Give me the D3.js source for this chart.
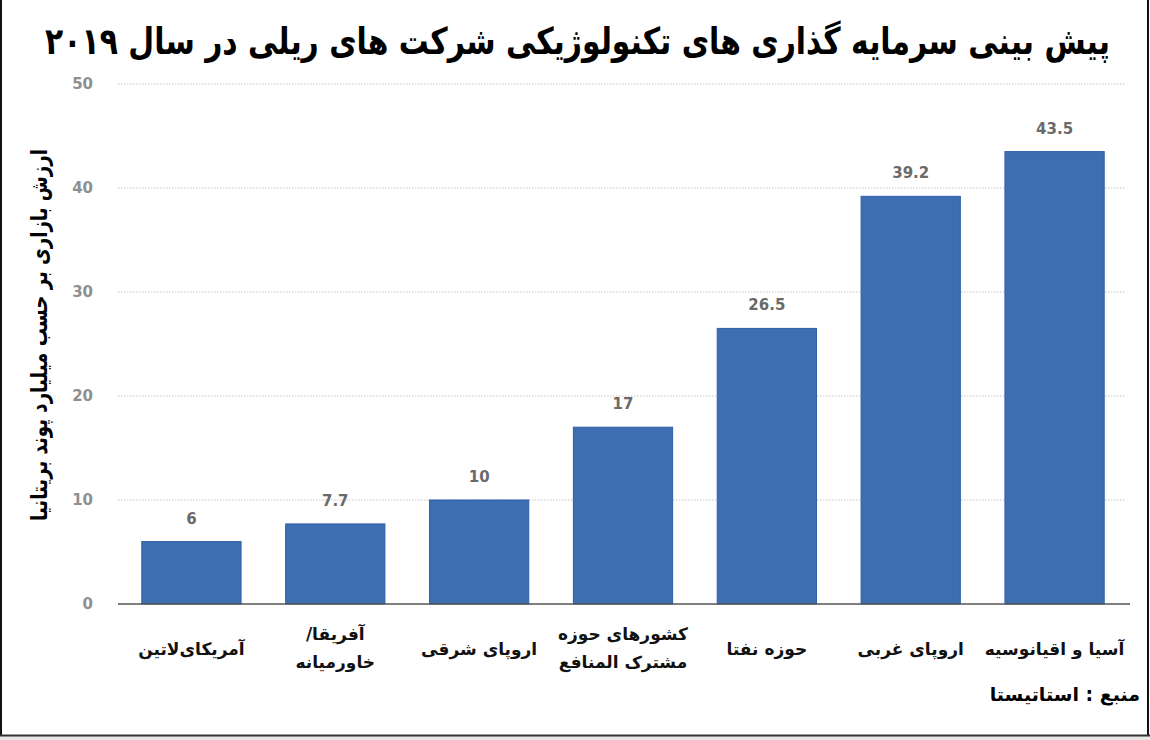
<!DOCTYPE html>
<html lang="fa">
<head>
<meta charset="utf-8">
<script src="https://cdn.jsdelivr.net/npm/d3@7"></script>
<style>
	html, body { margin: 0; padding: 0; background: #fff; }
	svg { display: block; }
	text { font-family: "DejaVu Sans", sans-serif; }
</style>
</head>
<body>
<svg id="chart" width="1150" height="740"></svg>
<script>
// Data (left to right as in the picture)
const regions = [
	["آمریکای‌لاتین"],
	["آفریقا/", "خاورمیانه"],
	["اروپای شرقی"],
	["کشورهای حوزه", "مشترک المنافع"],
	["حوزه نفتا"],
	["اروپای غربی"],
	["آسیا و اقیانوسیه"],
];
const values = [6, 7.7, 10, 17, 26.5, 39.2, 43.5];
const valueLabels = ["6", "7.7", "10", "17", "26.5", "39.2", "43.5"];
const yTicks = [0, 10, 20, 30, 40, 50];

const titleText = "پیش بینی سرمایه گذاری های تکنولوژیکی شرکت های ریلی در سال ۲۰۱۹";
const yLabelText = "ارزش بازاری بر حسب میلیارد پوند بریتانیا";
const sourceText = "منبع : استاتیستا";

const barColor = "#3e6eb2";

// squeeze a text horizontally so it fills the given width
function fitWidth(sel, width, anchorX) {
	const w = sel.node().getComputedTextLength();
	const k = width / w;
	sel.attr("transform", `translate(${anchorX},0) scale(${k},1) translate(${-anchorX},0)`);
}

function draw() {
	const svg = d3.select("#chart");
	const W = +svg.attr("width");
	const H = +svg.attr("height");

	// frame
	svg.append("rect").attr("x", 0).attr("y", 0).attr("width", W).attr("height", H).attr("fill", "#fff");
	svg.append("rect").attr("x", 0).attr("y", 735).attr("width", W).attr("height", 5).attr("fill", "#e6e6e6");
	svg.append("line").attr("x1", 1).attr("x2", 1).attr("y1", 0).attr("y2", 736)
		.attr("stroke", "#111").attr("stroke-width", 2);
	svg.append("line").attr("x1", W - 2).attr("x2", W - 2).attr("y1", 0).attr("y2", 736)
		.attr("stroke", "#111").attr("stroke-width", 2);
	svg.append("line").attr("x1", 0).attr("x2", W).attr("y1", 735.5).attr("y2", 735.5)
		.attr("stroke", "#333").attr("stroke-width", 2);

	const x = d3.scaleBand()
		.domain(d3.range(values.length))
		.range([119.5, 1126.5])
		.paddingInner(0.31)
		.paddingOuter(0.155);

	const y = d3.scaleLinear().domain([0, 50]).range([604, 84]);

	// grid
	svg.append("g")
		.selectAll("line")
		.data(yTicks.filter((d) => d > 0))
		.join("line")
		.attr("x1", 118)
		.attr("x2", 1126)
		.attr("y1", (d) => y(d))
		.attr("y2", (d) => y(d))
		.attr("stroke", "#c4c4c4")
		.attr("stroke-width", 1)
		.attr("stroke-dasharray", "1.5,1.5");

	// y tick labels
	svg.append("g")
		.selectAll("text")
		.data(yTicks)
		.join("text")
		.attr("x", 93)
		.attr("y", (d) => y(d))
		.attr("dy", "0.35em")
		.attr("text-anchor", "end")
		.attr("fill", "#8f8f8f")
		.style("font-size", "15px")
		.style("font-weight", "bold")
		.text((d) => d);

	// bars
	svg.append("g")
		.selectAll("rect")
		.data(values)
		.join("rect")
		.attr("x", (d, i) => x(i))
		.attr("width", x.bandwidth())
		.attr("y", (d) => y(d))
		.attr("height", (d) => y(0) - y(d))
		.attr("fill", barColor)
		.attr("stroke", "#2f5fa6")
		.attr("stroke-width", 1);

	// baseline
	svg.append("line")
		.attr("x1", 118).attr("x2", 1130)
		.attr("y1", y(0)).attr("y2", y(0))
		.attr("stroke", "#555").attr("stroke-width", 1.5);

	// value labels
	svg.append("g")
		.selectAll("text")
		.data(values)
		.join("text")
		.attr("x", (d, i) => x(i) + x.bandwidth() / 2)
		.attr("y", (d) => y(d) - 18)
		.attr("text-anchor", "middle")
		.attr("fill", "#6a6a6a")
		.style("font-size", "15px")
		.style("font-weight", "bold")
		.text((d, i) => valueLabels[i]);

	// category labels
	const cat = svg.append("g")
		.selectAll("text")
		.data(regions)
		.join("text")
		.attr("x", (d, i) => x(i) + x.bandwidth() / 2)
		.attr("y", (d) => (d.length === 1 ? 655 : 640))
		.attr("text-anchor", "middle")
		.attr("direction", "rtl")
		.attr("fill", "#111")
		.style("font-size", "17px")
		.style("font-weight", "bold");
	cat.selectAll("tspan")
		.data((d) => d)
		.join("tspan")
		.attr("x", function () { return this.parentNode.getAttribute("x"); })
		.attr("dy", (d, i) => (i === 0 ? 0 : 28))
		.text((d) => d);

	// title
	const title = svg.append("text")
		.attr("x", 1110)
		.attr("y", 54)
		.attr("text-anchor", "start")
		.attr("direction", "rtl")
		.attr("fill", "#000")
		.style("font-size", "37px")
		.style("font-weight", "bold")
		.text(titleText);
	fitWidth(title, 1065, 1110);

	// y axis label
	const yl = svg.append("g").attr("transform", "translate(47,335) rotate(-90)");
	const ylText = yl.append("text")
		.attr("x", 0)
		.attr("y", 0)
		.attr("text-anchor", "middle")
		.attr("direction", "rtl")
		.attr("fill", "#000")
		.style("font-size", "23px")
		.style("font-weight", "bold")
		.text(yLabelText);
	fitWidth(ylText, 372, 0);

	// source
	svg.append("text")
		.attr("x", 1140)
		.attr("y", 701)
		.attr("text-anchor", "start")
		.attr("direction", "rtl")
		.attr("fill", "#000")
		.style("font-size", "19px")
		.style("font-weight", "bold")
		.text(sourceText);
}

if (document.readyState === "loading") {
	document.addEventListener("DOMContentLoaded", draw);
} else {
	draw();
}
</script>
</body>
</html>
